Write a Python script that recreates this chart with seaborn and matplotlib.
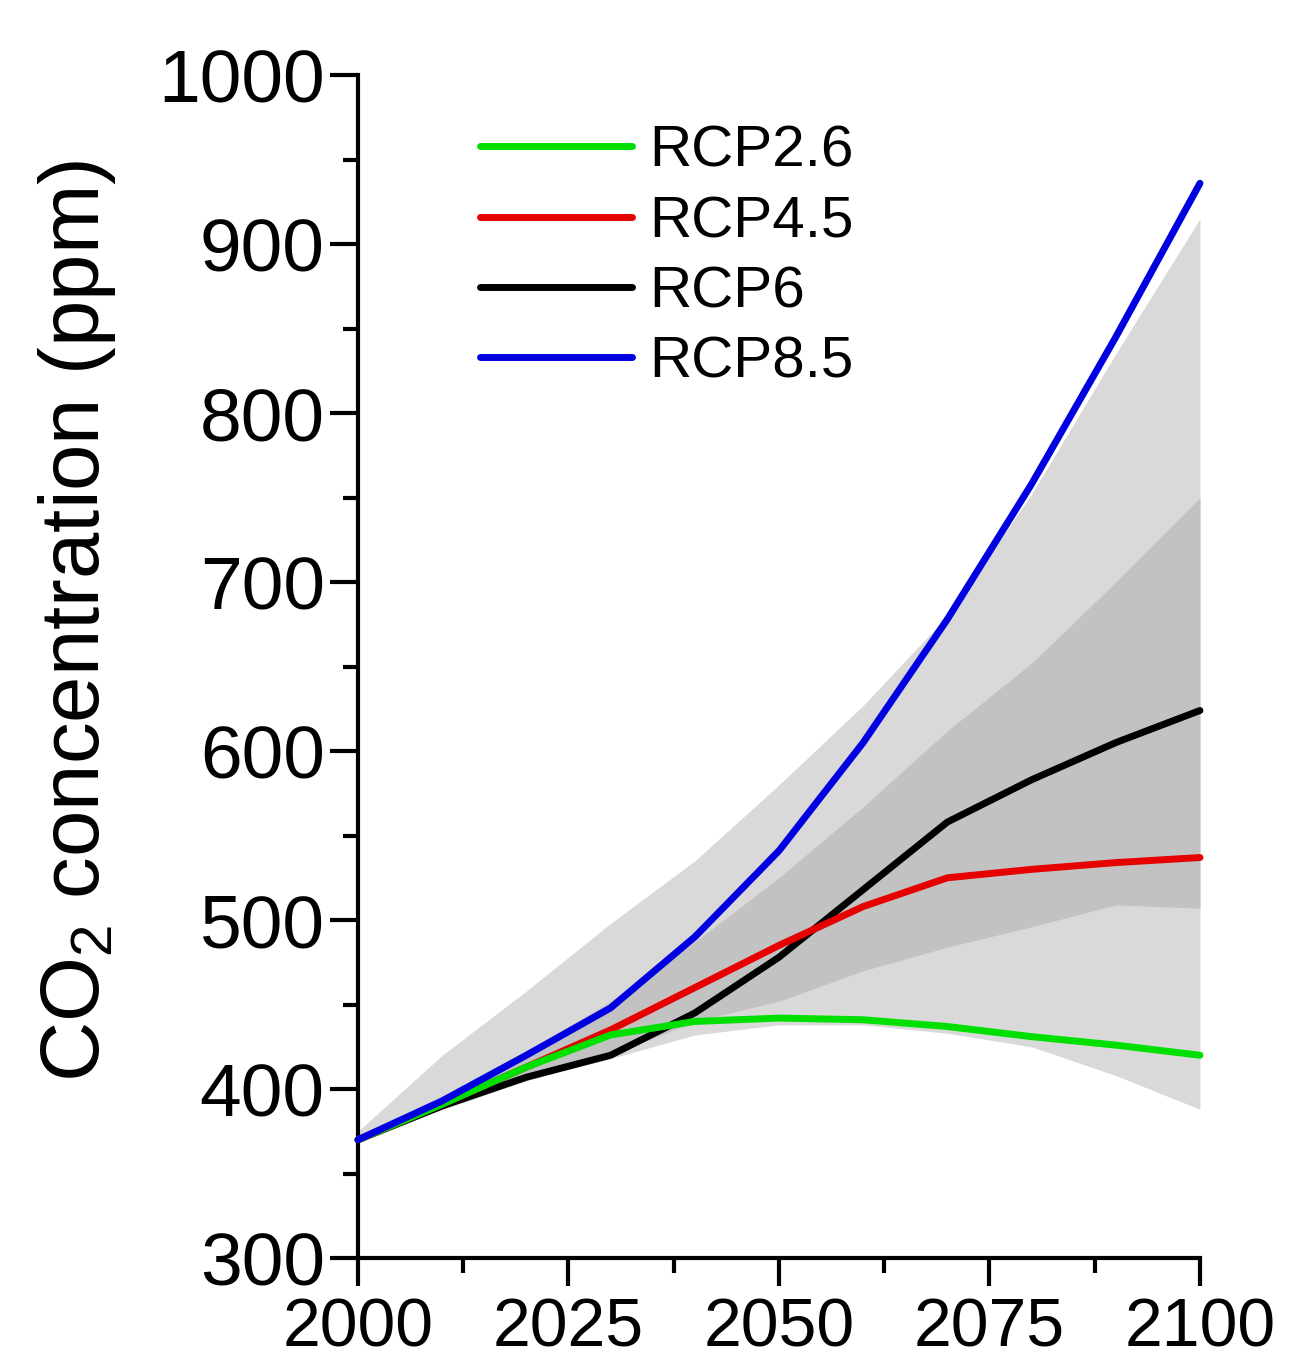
import numpy as np
import pandas as pd
import seaborn as sns
import matplotlib.pyplot as plt
from matplotlib.ticker import MultipleLocator
from matplotlib.lines import Line2D

# Years (decadal) and CO2 concentration per scenario (ppm)
years = [2000, 2010, 2020, 2030, 2040, 2050, 2060, 2070, 2080, 2090, 2100]
rcp26 = [370, 391, 413, 432, 440, 442, 441, 437, 431, 426, 420]
rcp45 = [370, 391, 413, 435, 460, 485, 508, 525, 530, 534, 537]
rcp6 = [370, 390, 407, 420, 445, 478, 518, 558, 583, 605, 624]
rcp85 = [370, 393, 420, 448, 490, 541, 605, 678, 758, 845, 936]

# Uncertainty envelopes (outer light band, inner dark band)
outer_low = [368, 388, 405, 418, 432, 438, 438, 433, 425, 408, 388]
outer_high = [375, 420, 458, 498, 535, 580, 627, 680, 752, 835, 915]
inner_low = [370, 388, 405, 420, 440, 452, 470, 484, 496, 509, 507]
inner_high = [370, 395, 422, 452, 487, 525, 567, 612, 652, 700, 750]

scenarios = ["RCP2.6", "RCP4.5", "RCP6", "RCP8.5"]
colours = {"RCP2.6": "#00e000", "RCP4.5": "#e60000", "RCP6": "#000000", "RCP8.5": "#0000e0"}

# Long-form table for seaborn
co2 = pd.DataFrame({
    "year": years * 4,
    "ppm": rcp26 + rcp45 + rcp6 + rcp85,
    "scenario": np.repeat(scenarios, len(years)),
})

sns.set_style("ticks")
plt.rcParams["font.family"] = ["Liberation Sans", "DejaVu Sans"]
plt.rcParams["mathtext.fontset"] = "custom"
plt.rcParams["mathtext.rm"] = "Liberation Sans"
plt.rcParams["text.color"] = "black"
plt.rcParams["axes.labelcolor"] = "black"
plt.rcParams["xtick.color"] = "black"
plt.rcParams["ytick.color"] = "black"

fig = plt.figure(figsize=(12.9, 13.71), dpi=100)
ax = fig.add_axes([0.2775, 0.0824, 0.6527, 0.8628])

# Shaded ranges
ax.fill_between(years, outer_low, outer_high, color="#d9d9d9", lw=0, zorder=1)
ax.fill_between(years, inner_low, inner_high, color="#c2c2c2", lw=0, zorder=2)

# Draw the scenario lines (black first so blue ends up on top)
draw_order = ["RCP6", "RCP4.5", "RCP2.6", "RCP8.5"]
for i, name in enumerate(draw_order):
    sns.lineplot(data=co2[co2["scenario"] == name], x="year", y="ppm",
                 color=colours[name], lw=5, ax=ax, zorder=3 + i,
                 legend=False, clip_on=False)

ax.set_xlim(2000, 2100)
ax.set_ylim(300, 1000)
ax.xaxis.set_major_locator(MultipleLocator(25))
ax.xaxis.set_minor_locator(MultipleLocator(12.5))
ax.yaxis.set_major_locator(MultipleLocator(100))
ax.yaxis.set_minor_locator(MultipleLocator(50))

ax.tick_params(axis="both", which="major", length=20, width=3, direction="out")
ax.tick_params(axis="both", which="minor", length=11, width=3, direction="out")
ax.tick_params(axis="y", which="major", pad=4, labelsize=54)
ax.tick_params(axis="x", which="major", pad=8, labelsize=49)

sns.despine(ax=ax)
for side in ["left", "bottom"]:
    ax.spines[side].set_linewidth(3)
    ax.spines[side].set_color("black")

ax.set_xlabel("")
ax.set_ylabel(r"CO$_\mathregular{2}$ concentration (ppm)", fontsize=60)
ax.yaxis.set_label_coords(-0.285, 0.539)

# Legend with scenarios in order
handles = [Line2D([0], [0], color=colours[s], lw=5) for s in scenarios]
ax.legend(handles, scenarios, loc="upper left", bbox_to_anchor=(0.145, 0.958),
          frameon=False, fontsize=42, handlelength=2.6, handletextpad=0.3,
          labelspacing=0.28, borderpad=0, borderaxespad=0)

fig.savefig("out.png", dpi=100)
